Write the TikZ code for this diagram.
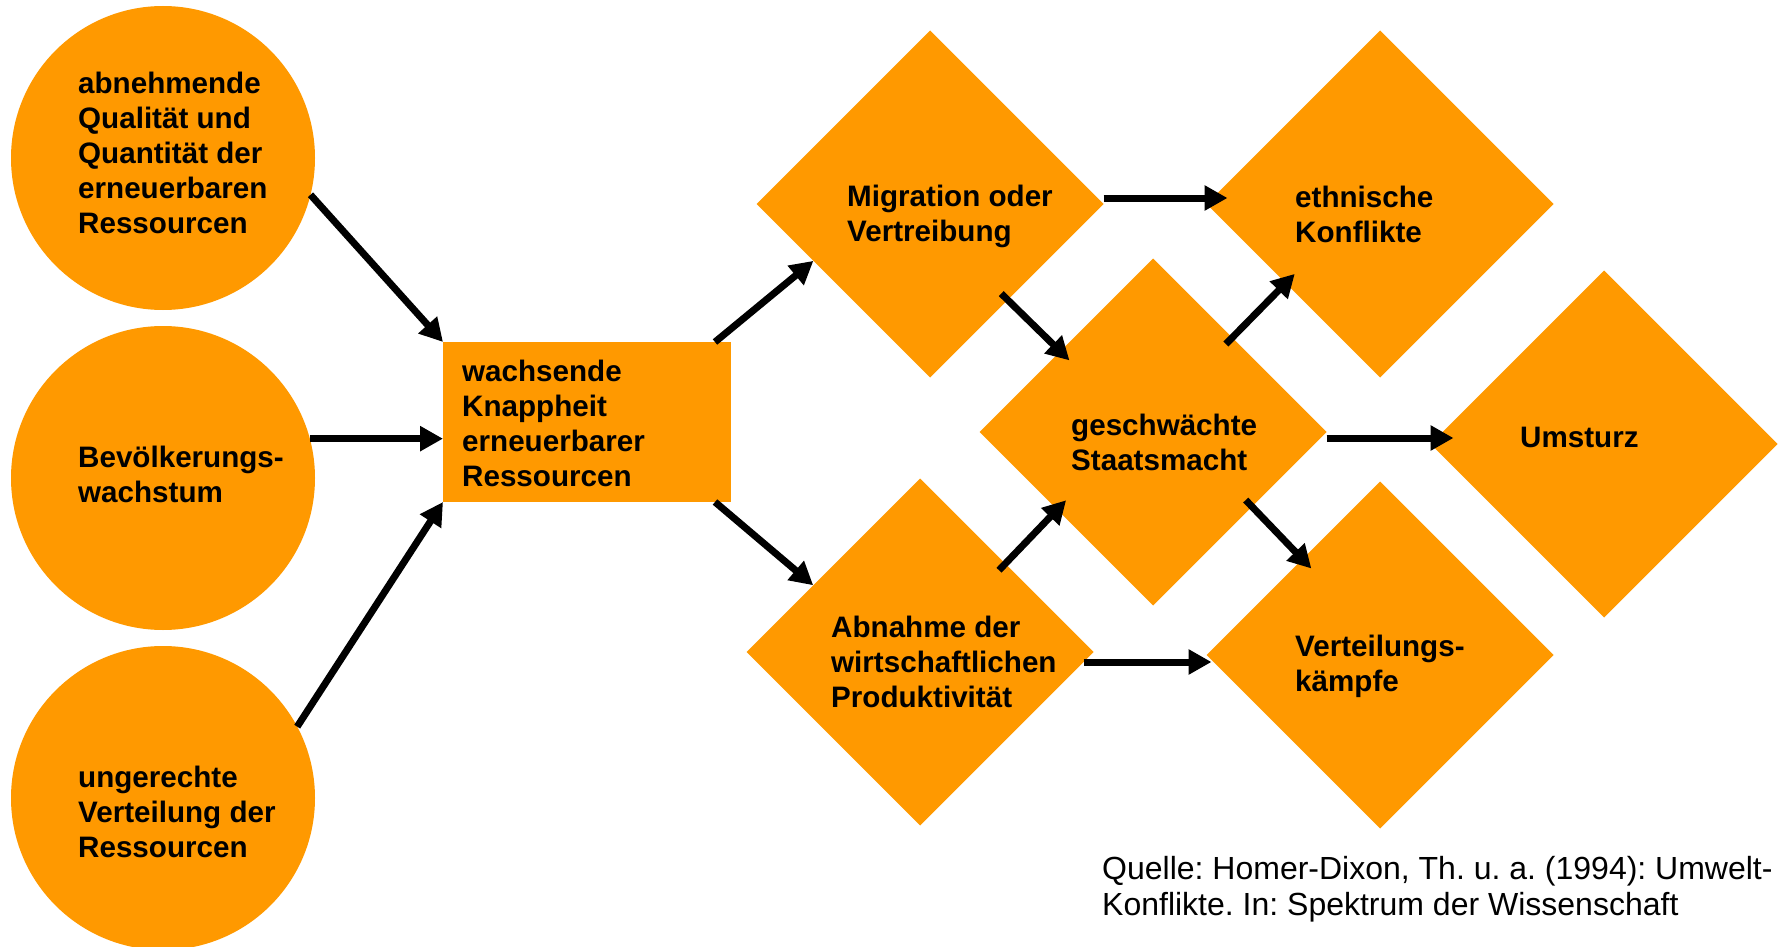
\documentclass[tikz,border=0pt]{standalone}
\usepackage{fontspec}
\setmainfont{Liberation Sans}
\usetikzlibrary{arrows.meta,shapes.geometric}
\definecolor{boxorange}{RGB}{255,153,0}

\begin{document}
\begin{tikzpicture}[x=1pt,y=-1pt,
  cause/.style={circle,fill=boxorange,minimum size=304pt,inner sep=0pt,outer sep=0pt},
  scarce/.style={rectangle,fill=boxorange,minimum width=288pt,minimum height=160pt,inner sep=0pt,outer sep=0pt},
  effect/.style={diamond,fill=boxorange,minimum width=347pt,minimum height=347pt,inner sep=0pt,outer sep=0pt},
  txt/.style={anchor=west,align=left,inner sep=0pt,font=\bfseries\fontsize{29.6}{35}\selectfont},
  arr/.style={-{Triangle[length=23pt,width=24pt]},line width=7pt},
  deep/.style={shorten <=-9pt,shorten >=-13pt}]
\useasboundingbox (0,0) rectangle (1778,947);
\node[cause] (qual) at (163,158) {};
\node[cause] (pop) at (163,478) {};
\node[cause] (ineq) at (163,798) {};
\node[scarce] (scar) at (587,422) {};
\node[effect] (mig) at (930,204) {};
\node[effect] (eth) at (1380,204) {};
\node[effect] (weak) at (1153,432) {};
\node[effect] (coup) at (1604,444) {};
\node[effect] (econ) at (920,652) {};
\node[effect] (dist) at (1380,655) {};
\node[txt] (qualtxt) at (78,153) {abnehmende\\Qualität und\\Quantität der\\erneuerbaren\\Ressourcen};
\node[txt] (poptxt) at (78,474) {Bevölkerungs-\\wachstum};
\node[txt] (ineqtxt) at (78,812) {ungerechte\\Verteilung der\\Ressourcen};
\node[txt] (scartxt) at (462,423) {wachsende\\Knappheit\\erneuerbarer\\Ressourcen};
\node[txt] (migtxt) at (847,216) {Migration oder\\Vertreibung};
\node[txt] (ethtxt) at (1295,214) {ethnische\\Konflikte};
\node[txt] (weaktxt) at (1071,442) {geschwächte\\Staatsmacht};
\node[txt] (couptxt) at (1520,437) {Umsturz};
\node[txt] (econtxt) at (831,662) {Abnahme der\\wirtschaftlichen\\Produktivität};
\node[txt] (disttxt) at (1295,666) {Verteilungs-\\kämpfe};
\node[anchor=west,align=left,inner sep=0pt,font=\frenchspacing\fontsize{32}{36}\selectfont] (source) at (1102,889) {Quelle: Homer-Dixon, Th. u. a. (1994): Umwelt-\\Konflikte. In: Spektrum der Wissenschaft};
\draw[arr] (qual.-14) -- (scar.north west);
\draw[arr] (pop.15) -- (pop.15 -| scar.west);
\draw[arr] (ineq.28) -- (scar.south west);
\draw[arr] ([xshift=-16pt]scar.north east) -- (mig.206);
\draw[arr] ([xshift=-16pt]scar.south east) -- (econ.148);
\draw[arr] ([yshift=6pt]mig.east) -- ([xshift=21pt,yshift=6pt]eth.west);
\draw[arr,deep] (mig.-51) -- (weak.139);
\draw[arr,deep] (weak.50) -- (eth.220);
\draw[arr] ([yshift=-6pt]weak.east) -- ([xshift=23pt,yshift=6pt]coup.west);
\draw[arr,deep] (econ.46) -- (weak.219);
\draw[arr,deep] (weak.-37) -- (dist.129);
\draw[arr] ([xshift=-10pt,yshift=-10pt]econ.east) -- ([xshift=5pt,yshift=-7pt]dist.west);
\end{tikzpicture}
\end{document}
